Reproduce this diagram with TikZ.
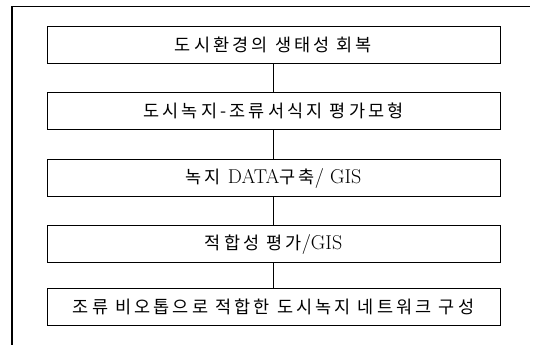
\documentclass[tikz,border=0pt]{standalone}
\usepackage{fontspec}
\newfontfamily\kr[LetterSpace=18]{Noto Sans CJK KR}
\newcommand{\lt}[1]{{\rmfamily\fontsize{20}{22}\selectfont #1}}
\begin{document}
\begin{tikzpicture}[x=1pt,y=-1pt,
  stepbox/.style={draw, line width=0.9pt, minimum width=453pt, minimum height=37pt, inner sep=0pt, font=\kr\fontsize{17.5}{20}\selectfont},
  conn/.style={line width=0.9pt}]
\useasboundingbox (0,0) rectangle (539,345);
\draw[line width=1.6pt] (12,345) -- (12,6.5) -- (530,6.5);
\node[stepbox] (b1) at (273.5,45) {도시환경의 생태성 회복};
\node[stepbox] (b2) at (273.5,110.5) {도시녹지-조류서식지 평가모형};
\node[stepbox] (b3) at (273.5,178) {녹지 \lt{DATA}구축\lt{/ GIS}};
\node[stepbox] (b4) at (273.5,244) {적합성 평가\lt{/GIS}};
\node[stepbox] (b5) at (273.5,306.5) {조류 비오톱으로 적합한 도시녹지 네트워크 구성};
\draw[conn] (b1) -- (b2);
\draw[conn] (b2) -- (b3);
\draw[conn] (b3) -- (b4);
\draw[conn] (b4) -- (b5);
\end{tikzpicture}
\end{document}
